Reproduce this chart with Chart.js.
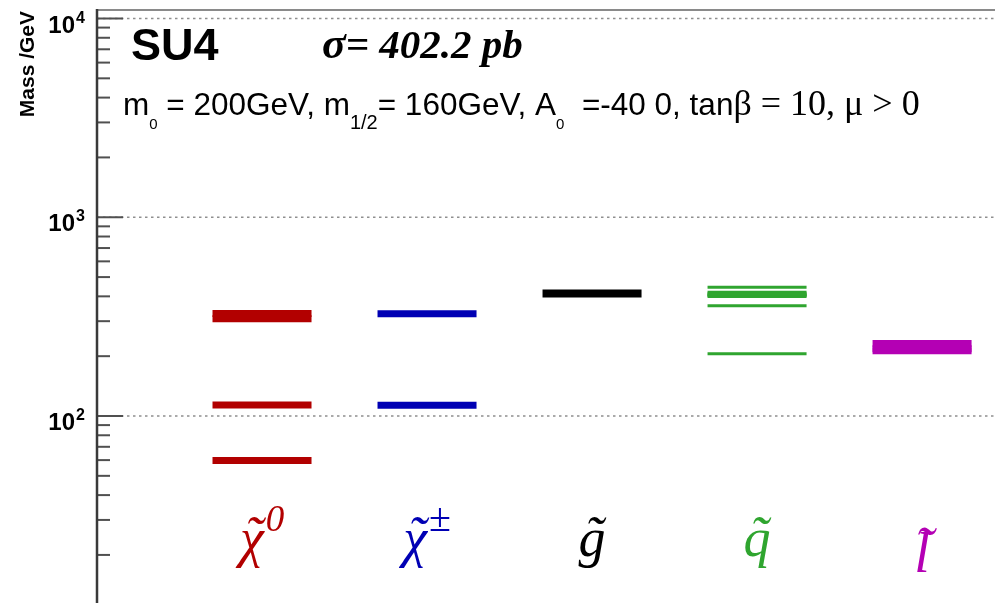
<!DOCTYPE html>
<html>
<head>
<meta charset="utf-8">
<script src="https://cdn.jsdelivr.net/npm/chart.js@4/dist/chart.umd.min.js"></script>
<style>
  html, body { margin: 0; padding: 0; background: #fff; overflow: hidden; }
  canvas { display: block; }
</style>
</head>
<body>
<canvas id="c" width="995" height="603"></canvas>
<script>
// SU4 mSUGRA point: sparticle mass spectrum in GeV
const categories = ['neutralino', 'chargino', 'gluino', 'squark', 'slepton'];
const neutralinoMasses = [59.8, 113.5, 308.9, 327.8];
const charginoMasses = [113.2, 326.6];
const gluinoMasses = [413.4];
const squarkMasses = [412.3, 404.9, 419.8, 405.8, 358.5, 399.2, 206.0, 445.0];
const sleptonMasses = [231.9, 212.9, 217.9];
const yDecades = [2, 3, 4];          // powers of ten that get a label and a grid line
const yRange = [11.46, 11035];        // visible mass window

const SANS = "'Liberation Sans', Arial, sans-serif";
const SERIF = "'Liberation Serif', 'Times New Roman', serif";

// per-category look: level colour, level thickness and the particle symbol underneath
const groups = [
  { masses: neutralinoMasses, color: '#b20000', width: 7, glyph: 'χ', sup: '0', supFont: 'italic 37px ' + SERIF, size: 54, base: 556, supBase: 531 },
  { masses: charginoMasses,   color: '#0000b4', width: 7, glyph: 'χ', sup: '±', supFont: '40px ' + SERIF, size: 54, base: 556, supBase: 531 },
  { masses: gluinoMasses,     color: '#000000', width: 8, glyph: 'g', size: 54, base: 556 },
  { masses: squarkMasses,     color: '#2fa52f', width: 3, glyph: 'q', size: 54, base: 556 },
  { masses: sleptonMasses,    color: '#b400b4', width: 7, glyph: 'l', size: 56, base: 572 }
];
const halfWidth = 0.3;

const datasets = [];
groups.forEach((g, i) => {
  g.masses.forEach(m => {
    datasets.push({
      label: categories[i],
      data: [{ x: i + 1 - halfWidth, y: m }, { x: i + 1 + halfWidth, y: m }],
      showLine: true,
      borderColor: g.color,
      backgroundColor: g.color,
      borderWidth: g.width,
      borderCapStyle: 'butt',
      pointRadius: 0,
      fill: false
    });
  });
});

function segLine(ctx, x1, y1, x2, y2) {
  ctx.beginPath(); ctx.moveTo(x1, y1); ctx.lineTo(x2, y2); ctx.stroke();
}

// frame, dotted decade grid and inward tick marks
const framePlugin = {
  id: 'frame',
  beforeDatasetsDraw(chart) {
    const { ctx, chartArea: ca } = chart;
    const ys = chart.scales.y;
    ctx.save();
    ctx.strokeStyle = '#8f8f8f';
    ctx.lineWidth = 1.6;
    ctx.setLineDash([2.5, 3.5]);
    yDecades.forEach(k => {
      const py = ys.getPixelForValue(Math.pow(10, k));
      segLine(ctx, ca.left, py, ca.right, py);
    });
    ctx.setLineDash([]);
    ctx.strokeStyle = '#505050';
    ctx.lineWidth = 2;
    for (let k = 1; k <= 4; k++) {
      for (let n = 1; n <= 9; n++) {
        const v = n * Math.pow(10, k);
        if (v < yRange[0] || v > yRange[1]) continue;
        const py = ys.getPixelForValue(v);
        segLine(ctx, ca.left, py, ca.left + (n === 1 ? 26 : 13), py);
      }
    }
    ctx.strokeStyle = '#8a8a8a';
    ctx.lineWidth = 2;
    segLine(ctx, ca.left, ca.top, ca.right, ca.top);
    ctx.strokeStyle = '#3a3a3a';
    ctx.lineWidth = 2.5;
    segLine(ctx, ca.left, ca.top - 1, ca.left, ca.bottom);
    ctx.restore();
  },
  afterDraw(chart) {
    const { ctx } = chart;
    const ys = chart.scales.y, xs = chart.scales.x;
    ctx.save();
    ctx.fillStyle = '#000';
    ctx.textBaseline = 'alphabetic';

    // decade labels 10^k
    yDecades.forEach(k => {
      const py = ys.getPixelForValue(Math.pow(10, k));
      ctx.font = 'bold 24px ' + SANS;
      ctx.textAlign = 'right';
      ctx.fillText('10', 75, py + 14);
      ctx.font = 'bold 16px ' + SANS;
      ctx.textAlign = 'left';
      ctx.fillText(String(k), 76, py + 4);
    });

    // axis title
    ctx.save();
    ctx.translate(34, 11);
    ctx.rotate(-Math.PI / 2);
    ctx.font = 'bold 21px ' + SANS;
    ctx.textAlign = 'right';
    ctx.fillText('Mass /GeV', 0, 0);
    ctx.restore();

    // headline
    ctx.textAlign = 'left';
    ctx.font = 'bold 45px ' + SANS;
    ctx.fillText('SU4', 131, 60);
    ctx.font = 'bold italic 44px ' + SERIF;
    ctx.fillText('σ', 322, 58);
    let cx = 322 + ctx.measureText('σ').width;
    ctx.font = 'bold italic 41px ' + SERIF;
    ctx.fillText('= 402.2 pb', cx, 58);

    // parameter line: text runs with subscripts
    const runs = [
      { t: 'm', f: '31.5px ' + SANS, dy: 0 },
      { t: '0', f: '15px ' + SANS, dy: 14 },
      { t: ' = 200GeV, m', f: '31.5px ' + SANS, dy: 0 },
      { t: '1/2', f: '20px ' + SANS, dy: 14 },
      { t: '= 160GeV, A', f: '31.5px ' + SANS, dy: 0 },
      { t: '0', f: '15px ' + SANS, dy: 14 },
      { t: '  =-40 0, tan', f: '31.5px ' + SANS, dy: 0 },
      { t: 'β = 10, μ > 0', f: '36px ' + SERIF, dy: 0 }
    ];
    let rx = 123;
    runs.forEach(r => {
      ctx.font = r.f;
      ctx.fillText(r.t, rx, 115 + r.dy);
      rx += ctx.measureText(r.t).width;
    });

    // particle symbols under each column
    groups.forEach((g, i) => {
      const cxp = xs.getPixelForValue(i + 1);
      const mainFont = 'italic ' + g.size + 'px ' + SERIF;
      ctx.font = mainFont;
      const wMain = ctx.measureText(g.glyph).width;
      let wSup = 0;
      if (g.sup) { ctx.font = g.supFont; wSup = ctx.measureText(g.sup).width + 2; }
      const left = cxp - (wMain + wSup) / 2;
      ctx.fillStyle = g.color;
      ctx.font = mainFont;
      ctx.textAlign = 'left';
      ctx.fillText(g.glyph, left, g.base);
      // tilde accent over the symbol
      ctx.textAlign = 'center';
      ctx.fillText('˜', left + wMain / 2 + 2, g.base - (g.glyph === 'l' ? 6 : 2));
      if (g.sup) {
        ctx.textAlign = 'left';
        ctx.font = g.supFont;
        ctx.fillText(g.sup, left + wMain + 2, g.supBase);
      }
    });
    ctx.restore();
  }
};

new Chart(document.getElementById('c'), {
  type: 'scatter',
  data: { datasets },
  options: {
    responsive: false,
    devicePixelRatio: 1,
    animation: false,
    layout: { padding: { left: 97, top: 10, right: 0, bottom: 0 } },
    plugins: { legend: { display: false }, tooltip: { enabled: false } },
    scales: {
      x: { type: 'linear', display: false, min: 0, max: 5.442 },
      y: { type: 'logarithmic', display: false, min: yRange[0], max: yRange[1] }
    }
  },
  plugins: [framePlugin]
});
</script>
</body>
</html>
